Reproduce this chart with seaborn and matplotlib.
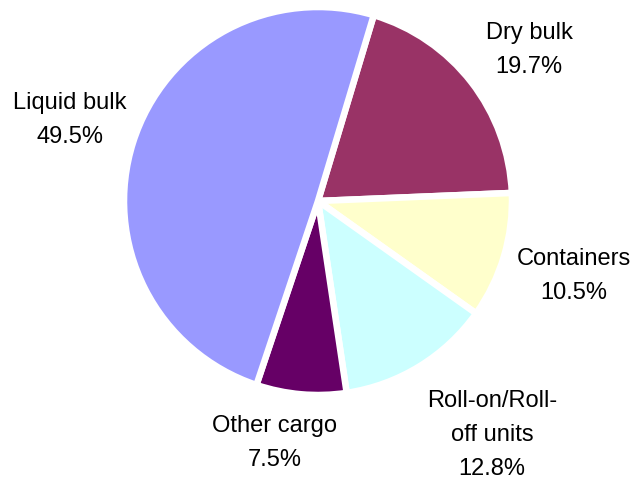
import matplotlib
matplotlib.use("Agg")
import matplotlib.pyplot as plt
import seaborn as sns

# cargo shares (%) going clockwise from the top
categories = ["Dry bulk", "Containers", "Roll-on/Roll-off units", "Other cargo", "Liquid bulk"]
label_text = ["Dry bulk", "Containers", "Roll-on/Roll-\noff units", "Other cargo", "Liquid bulk"]
shares = [19.7, 10.5, 12.8, 7.5, 49.5]
colors = ["#993366", "#FFFFCC", "#CCFFFF", "#660066", "#9999FF"]

# label positions in pixels (x centre, top of first line)
label_px = [(529, 22), (574, 248), (492, 390), (275, 415), (70, 92)]

sns.set_theme(style="white")
plt.rcParams["font.family"] = ["Liberation Sans", "DejaVu Sans"]

W, H = 633, 479
fig = plt.figure(figsize=(W / 100, H / 100), dpi=100)
ax = fig.add_axes([0, 0, 1, 1])

pal = sns.color_palette(colors)
ax.pie(shares, colors=pal, startangle=73.3, counterclock=False,
       wedgeprops=dict(edgecolor="white", linewidth=4.7))

# pie centre / radius in pixels
cx, cy, r = 318, 201, 194
ax.set_xlim(-cx / r, (W - cx) / r)
ax.set_ylim(-(H - cy) / r, cy / r)
ax.set_aspect("auto")
ax.axis("off")

for txt, val, (px, py) in zip(label_text, shares, label_px):
    fig.text(px / W, 1 - py / H, f"{txt}\n{val:.1f}%", ha="center", va="top",
             multialignment="center", fontsize=17, linespacing=1.7, color="black")

fig.savefig("out.png", dpi=100)
